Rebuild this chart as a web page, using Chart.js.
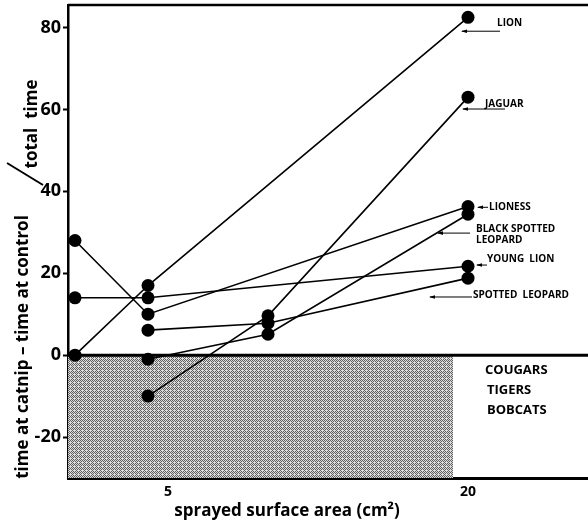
<!DOCTYPE html>
<html>
<head>
<meta charset="utf-8">
<title>Catnip response vs sprayed surface area</title>
<style>
  html, body { margin: 0; padding: 0; background: #fff; }
  #wrap { width: 588px; height: 527px; }
</style>
</head>
<body>
<div id="wrap"><canvas id="catnipChart"></canvas></div>
<script src="https://cdn.jsdelivr.net/npm/chart.js@4/dist/chart.umd.min.js"></script>
<script>
// sprayed surface area (cm2) of each test
const areas = [0.35, 4, 10, 20];

// (catnip - control) / total time, % ; null = not tested at that area
const lion = [0, 17, null, 82.5];
const jaguar = [null, -10, 9.6, 63];
const lioness = [28, 10, null, 36.3];
const blackSpottedLeopard = [null, -1, 5.1, 34.4];
const youngLion = [14, 14, null, 21.7];
const spottedLeopard = [null, 6.1, 7.8, 18.8];

const seriesNames = ['LION', 'JAGUAR', 'LIONESS', 'BLACK SPOTTED LEOPARD', 'YOUNG LION', 'SPOTTED LEOPARD'];
const nonResponders = ['COUGARS', 'TIGERS', 'BOBCATS'];

const xTicks = [5, 20];
const yTicks = [-20, 0, 20, 40, 60, 80];
const shadeEndArea = 19.25;

const FONT = '"Open Sans", "DejaVu Sans", sans-serif';

// where the hand-lettered labels sit (data coords) and their little arrows
const labelSpots = [
  { lines: ['LION'], x: 21.45, y: 81.1, arrow: [21.6, 19.7, 79.1] },
  { lines: ['JAGUAR'], x: 20.85, y: 61.3, arrow: [21.85, 19.75, 60.1] },
  { lines: ['LIONESS'], x: 21.05, y: 36.1, arrow: [21.0, 20.5, 36.1] },
  { lines: ['BLACK SPOTTED', 'LEOPARD'], x: 20.4, y: 30.8, arrow: [20.1, 18.5, 29.8] },
  { lines: ['YOUNG  LION'], x: 20.95, y: 23.4, arrow: [20.95, 20.45, 22.0] },
  { lines: ['SPOTTED  LEOPARD'], x: 20.25, y: 14.65, arrow: [20.2, 18.1, 14.2] },
];
const groupSpot = { x: 20.85, y: -3.7 };

function toPoints(values) {
  return areas.map((a, i) => ({ x: a, y: values[i] })).filter((p) => p.y !== null);
}

// fine halftone for the "no response" band
function makeStipple() {
  const dots = [
    '1010',
    '0101',
    '1000',
    '0101',
  ];
  const c = document.createElement('canvas');
  c.width = 4;
  c.height = 4;
  const g = c.getContext('2d');
  g.fillStyle = '#dcdcdc';
  g.fillRect(0, 0, 4, 4);
  g.fillStyle = '#5e5e5e';
  dots.forEach((row, r) => {
    for (let k = 0; k < 4; k++) if (row[k] === '1') g.fillRect(k, r, 1, 1);
  });
  return g.createPattern(c, 'repeat');
}

const catnipDecor = {
  id: 'catnipDecor',
  beforeDatasetsDraw(chart) {
    const { ctx, chartArea, scales: { x, y } } = chart;
    const x0 = chartArea.left;
    const x1 = x.getPixelForValue(shadeEndArea);
    const yZero = y.getPixelForValue(0);
    const yBot = chartArea.bottom;
    ctx.save();
    ctx.fillStyle = makeStipple();
    ctx.fillRect(x0, yZero, x1 - x0, yBot - yZero);
    ctx.strokeStyle = '#000';
    ctx.lineWidth = 3;
    ctx.beginPath();
    ctx.moveTo(chartArea.left, yZero);
    ctx.lineTo(chartArea.right, yZero);
    ctx.stroke();
    ctx.lineWidth = 2.5;
    ctx.beginPath();
    ctx.moveTo(chartArea.left, chartArea.top);
    ctx.lineTo(chartArea.right, chartArea.top);
    ctx.stroke();
    ctx.restore();
  },
  afterDatasetsDraw(chart) {
    const { ctx, scales: { x, y } } = chart;
    ctx.save();
    ctx.fillStyle = '#000';
    ctx.strokeStyle = '#000';
    ctx.textBaseline = 'middle';
    ctx.textAlign = 'left';
    ctx.font = 'bold 10px ' + FONT;
    labelSpots.forEach((s) => {
      const px = x.getPixelForValue(s.x);
      const py = y.getPixelForValue(s.y);
      s.lines.forEach((t, k) => ctx.fillText(t, px, py + k * 11));
      const ax1 = x.getPixelForValue(s.arrow[0]);
      const ax2 = x.getPixelForValue(s.arrow[1]);
      const ay = y.getPixelForValue(s.arrow[2]);
      ctx.lineWidth = 1;
      ctx.beginPath();
      ctx.moveTo(ax1, ay);
      ctx.lineTo(ax2, ay);
      ctx.stroke();
      ctx.beginPath();
      ctx.moveTo(ax2 - 1, ay);
      ctx.lineTo(ax2 + 5, ay - 1.8);
      ctx.lineTo(ax2 + 5, ay + 1.8);
      ctx.closePath();
      ctx.fill();
    });
    ctx.font = 'bold 13px ' + FONT;
    const gx = x.getPixelForValue(groupSpot.x);
    const gy = y.getPixelForValue(groupSpot.y);
    nonResponders.forEach((t, k) => ctx.fillText(t, gx + (k ? 2 : 0), gy + k * 20));
    ctx.restore();
  },
  afterDraw(chart) {
    const { ctx } = chart;
    ctx.save();
    ctx.fillStyle = '#000';
    ctx.strokeStyle = '#000';
    ctx.textBaseline = 'middle';
    ctx.textAlign = 'center';
    // y axis title, split like a fraction
    ctx.font = 'bold 17px ' + FONT;
    ctx.save();
    ctx.translate(23, 347);
    ctx.rotate(-Math.PI / 2);
    ctx.fillText('time at catnip \u2013 time at control', 0, 0);
    ctx.restore();
    ctx.save();
    ctx.translate(32, 124);
    ctx.rotate(-Math.PI / 2);
    ctx.fillText('total  time', 0, 0);
    ctx.restore();
    ctx.lineWidth = 2;
    ctx.beginPath();
    ctx.moveTo(7, 163);
    ctx.lineTo(43, 185);
    ctx.stroke();
    // x axis title
    ctx.fillText('sprayed surface area (cm\u00b2)', 287, 511);
    ctx.restore();
  },
};

const lineStyle = {
  borderColor: '#000',
  backgroundColor: '#000',
  borderWidth: 1.6,
  pointRadius: 6.5,
  pointBorderWidth: 0,
  pointBackgroundColor: '#000',
  tension: 0,
  fill: false,
};

const allSeries = [lion, jaguar, lioness, blackSpottedLeopard, youngLion, spottedLeopard];

new Chart(document.getElementById('catnipChart'), {
  type: 'line',
  data: {
    datasets: allSeries.map((vals, i) => Object.assign({ label: seriesNames[i], data: toPoints(vals) }, lineStyle)),
  },
  options: {
    responsive: true,
    maintainAspectRatio: false,
    animation: false,
    layout: { autoPadding: false, padding: { top: 5, right: 0, left: 0, bottom: 0 } },
    plugins: {
      legend: { display: false },
      tooltip: { enabled: false },
      title: { display: false },
    },
    scales: {
      x: {
        type: 'linear',
        min: 0,
        max: 26,
        afterBuildTicks: (axis) => { axis.ticks = xTicks.map((v) => ({ value: v })); },
        afterFit: (axis) => { axis.height = 49; axis.paddingLeft = 0; axis.paddingRight = 0; },
        border: { display: true, color: '#000', width: 3 },
        grid: { drawOnChartArea: false, drawTicks: false },
        ticks: { color: '#000', padding: 6, font: { family: FONT, size: 14, weight: 'bold' } },
      },
      y: {
        min: -30,
        max: 85.5,
        afterBuildTicks: (axis) => { axis.ticks = yTicks.map((v) => ({ value: v })); },
        afterFit: (axis) => { axis.width = 68; axis.paddingTop = 0; axis.paddingBottom = 0; },
        border: { display: true, color: '#000', width: 2.5 },
        grid: { drawOnChartArea: false, tickLength: 5, tickWidth: 2, color: '#000' },
        ticks: { color: '#000', padding: 2, font: { family: FONT, size: 18, weight: 'bold' } },
      },
    },
  },
  plugins: [catnipDecor],
});
</script>
</body>
</html>
